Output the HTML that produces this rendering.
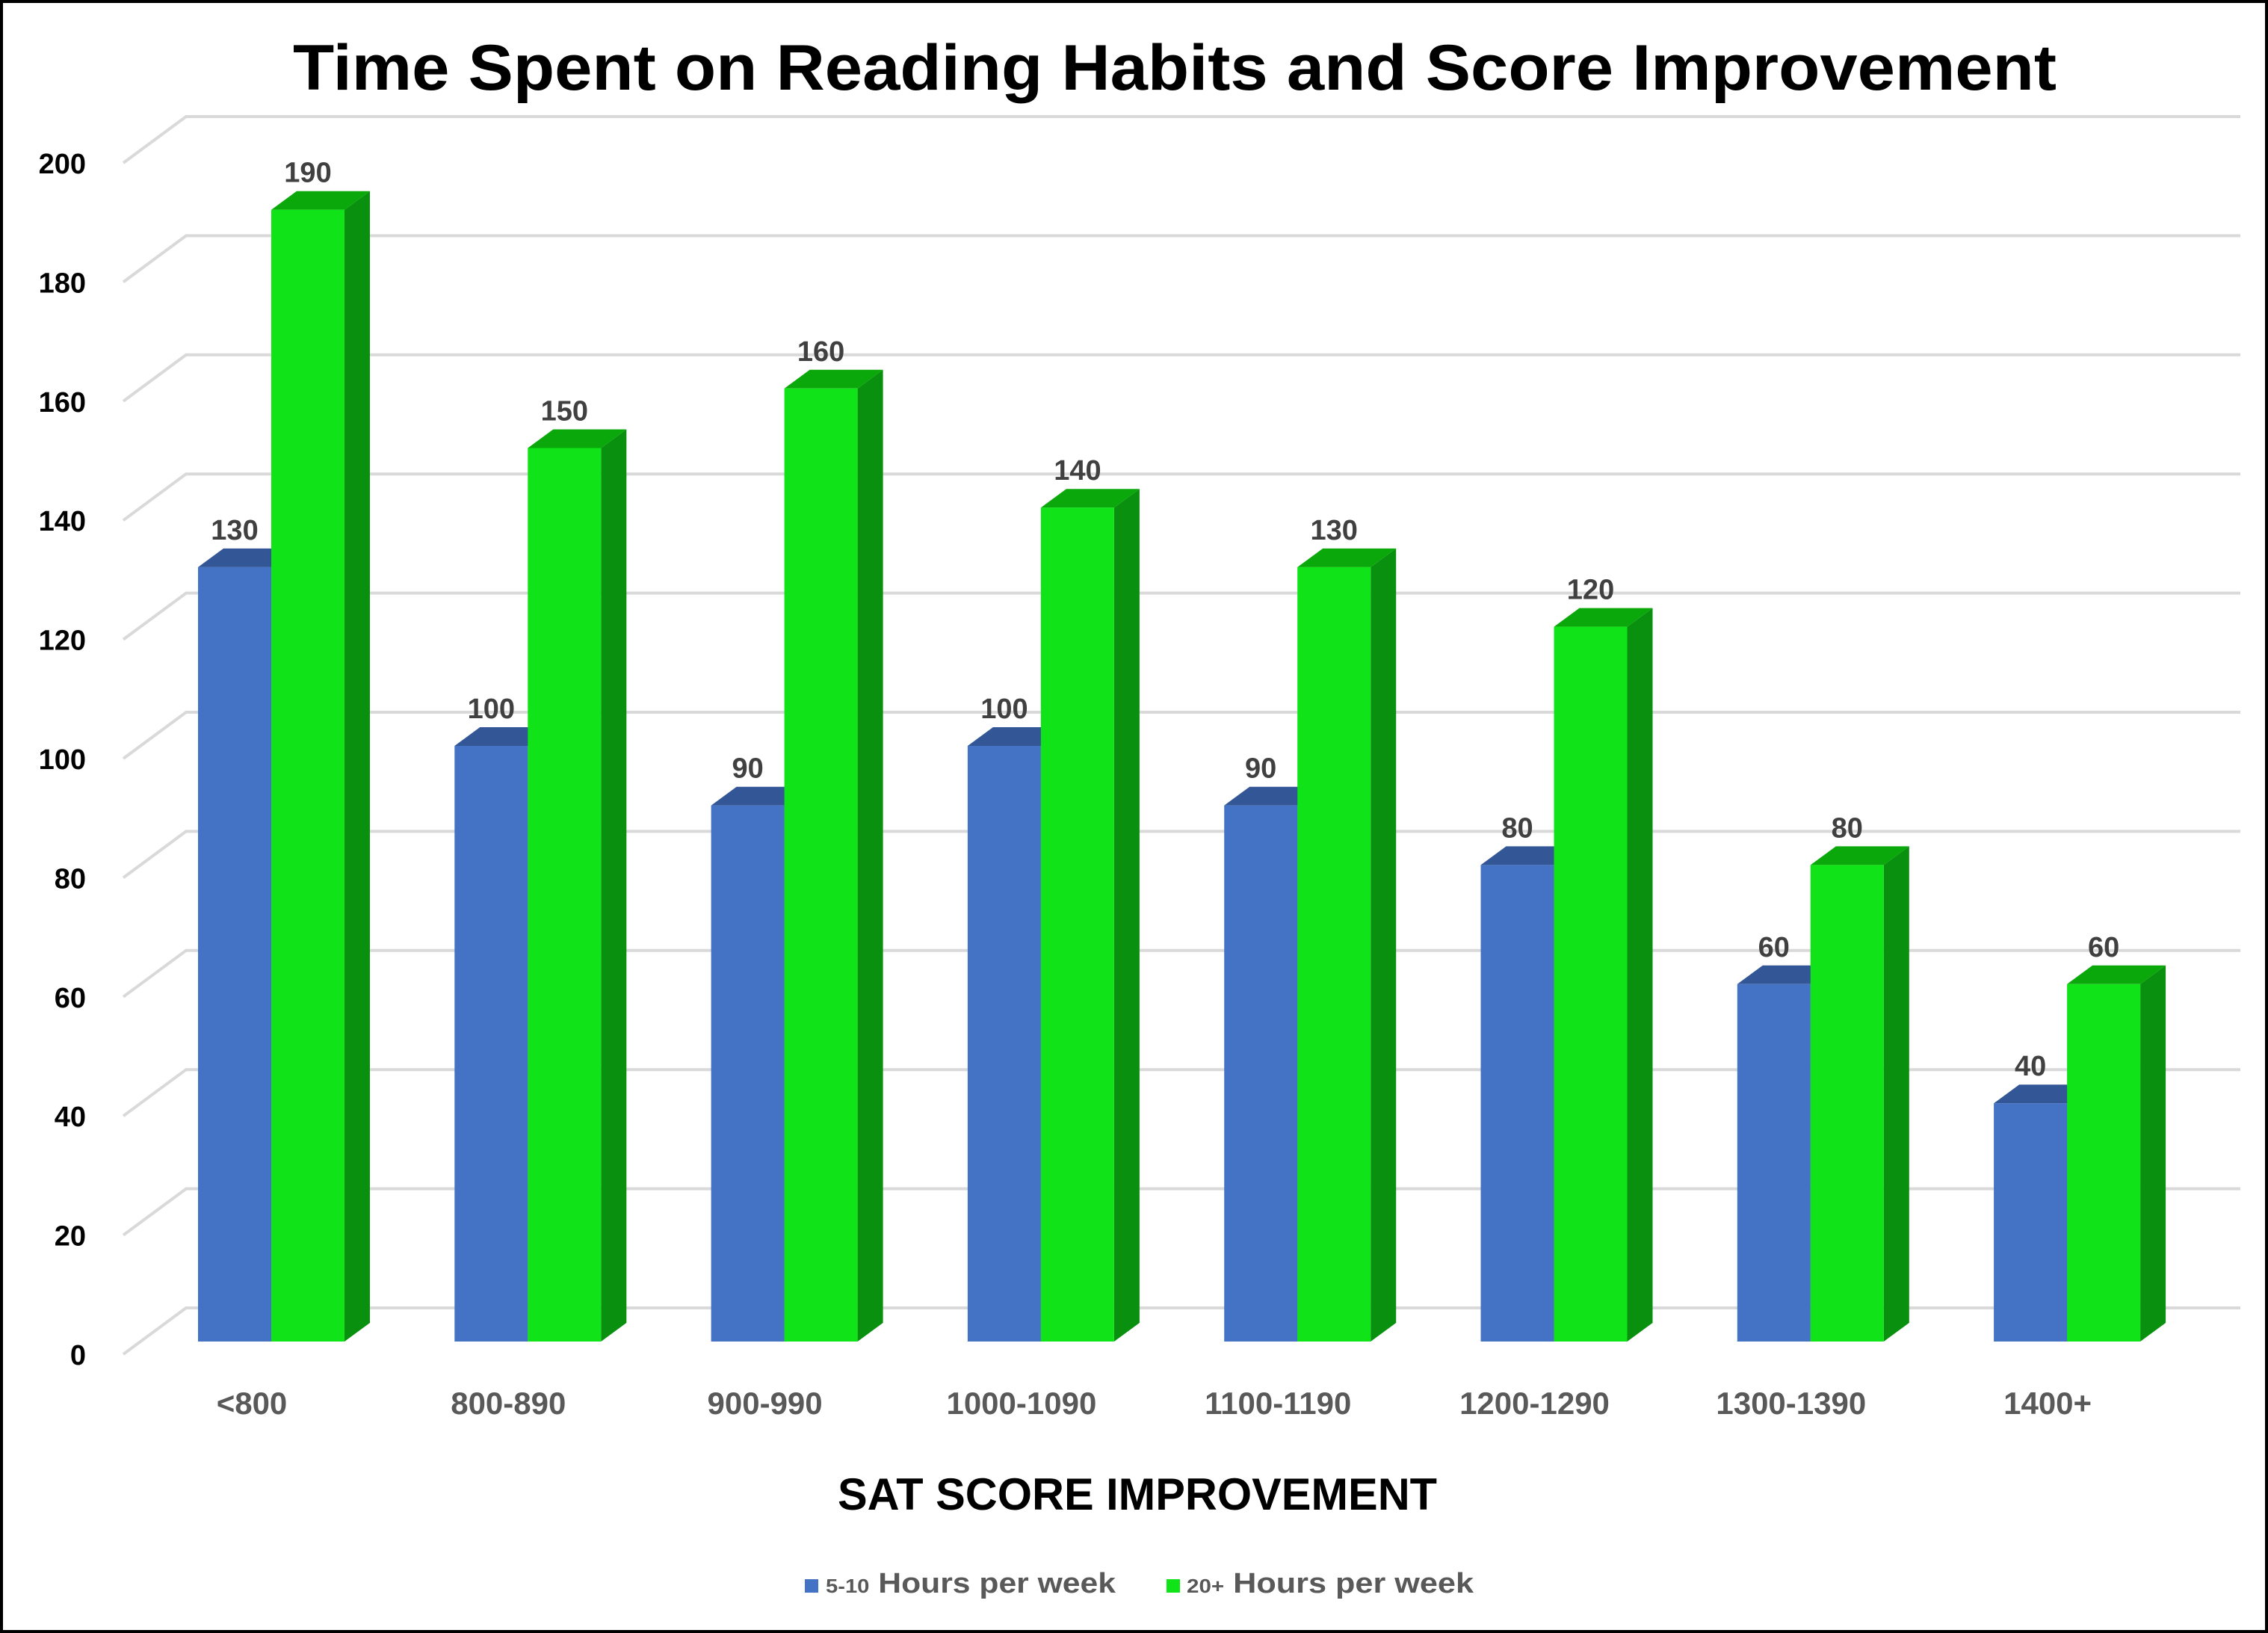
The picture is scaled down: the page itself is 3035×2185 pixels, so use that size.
<!DOCTYPE html>
<html><head><meta charset="utf-8"><style>
html,body{margin:0;padding:0;background:#fff;}
svg{display:block;font-family:"Liberation Sans",sans-serif;font-weight:bold;}
</style></head><body>
<svg id="chart" width="3035" height="2185" viewBox="0 0 3035 2185" xmlns="http://www.w3.org/2000/svg">
<rect x="2" y="2" width="3031" height="2181" fill="#fff" stroke="#000" stroke-width="4"/>
<text x="1572" y="120" text-anchor="middle" font-size="86" fill="#000" textLength="2360" lengthAdjust="spacingAndGlyphs">Time Spent on Reading Habits and Score Improvement</text>
<g id="grid"></g>
<g id="yticks"></g>
<g id="bars"></g>
<g id="labels"></g>
<g id="xlabels"></g>
<text x="1522" y="2020" text-anchor="middle" font-size="60" fill="#000" textLength="802" lengthAdjust="spacingAndGlyphs">SAT SCORE IMPROVEMENT</text>
<g>
<g>
<rect x="1077" y="2113" width="18" height="18" fill="#4472C4"/>
<text x="1105" y="2131" font-size="38" fill="#595959" textLength="388" lengthAdjust="spacingAndGlyphs"><tspan font-size="26">5-10</tspan> Hours per week</text>
</g>
<g>
<rect x="1561" y="2113" width="18" height="18" fill="#10E318"/>
<text x="1588" y="2131" font-size="38" fill="#595959" textLength="384" lengthAdjust="spacingAndGlyphs"><tspan font-size="26">20+</tspan> Hours per week</text>
</g>
</g>
</svg>
<script>
const categories = ["<800","800-890","900-990","1000-1090","1100-1190","1200-1290","1300-1390","1400+"];
const series1 = [130,100,90,100,90,80,60,40];
const series2 = [190,150,160,140,130,120,80,60];
const yTicks = [0,20,40,60,80,100,120,140,160,180,200];

const NS = "http://www.w3.org/2000/svg";
const PX = 7.97;
function yBack(v){ return 1750 - v*PX; }
function yFront(v){ return 1795 - v*PX; }
function xGroup(i){ return 265 + i*343.3; }
const BW = 98, DX = 34, DY = 25;

function mk(tag, attrs, parent){
  const e = document.createElementNS(NS, tag);
  for (const k in attrs) e.setAttribute(k, attrs[k]);
  parent.appendChild(e);
  return e;
}
const grid = document.getElementById('grid');
const yt = document.getElementById('yticks');
yTicks.forEach(v => {
  const yb = yBack(v);
  const pl = mk('polyline', {points: `165,${yb+62} 249,${yb} 2998,${yb}`, fill:'none', stroke:'#d9d9d9', 'stroke-width':4}, grid);
  
  
  const t = mk('text', {x:115, y:yb+62+14, 'text-anchor':'end', 'font-size':38, fill:'#000'}, yt);
  t.textContent = v;
  
  
});

const bars = document.getElementById('bars');
const labels = document.getElementById('labels');
function bar(x, v, front, top, side, name){
  const g = mk('g', {}, bars);
  
  
  const yt = yFront(v), yb = yFront(0);
  mk('polygon', {points:`${x+BW},${yt} ${x+BW+DX},${yt-DY} ${x+BW+DX},${yb-DY} ${x+BW},${yb}`, fill:side}, g);
  mk('polygon', {points:`${x},${yt} ${x+DX},${yt-DY} ${x+BW+DX},${yt-DY} ${x+BW},${yt}`, fill:top}, g);
  mk('rect', {x:x, y:yt, width:BW, height:yb-yt, fill:front}, g);
  const t = mk('text', {x:x+BW/2, y:yt-DY-12, 'text-anchor':'middle', 'font-size':38, fill:'#404040'}, labels);
  t.textContent = v;
  
  
}
const xl = document.getElementById('xlabels');
categories.forEach((c, i) => {
  const x = xGroup(i);
  bar(x, series1[i], '#4472C4', '#335796', '#2F5597', 'bar-5-10-' + i);
  bar(x+BW, series2[i], '#10E318', '#0AA80A', '#08900E', 'bar-20plus-' + i);
  const t = mk('text', {x:x+72, y:1892, 'text-anchor':'middle', 'font-size':42, fill:'#595959'}, xl);
  t.textContent = c;
  
  
});
</script>
</body></html>
